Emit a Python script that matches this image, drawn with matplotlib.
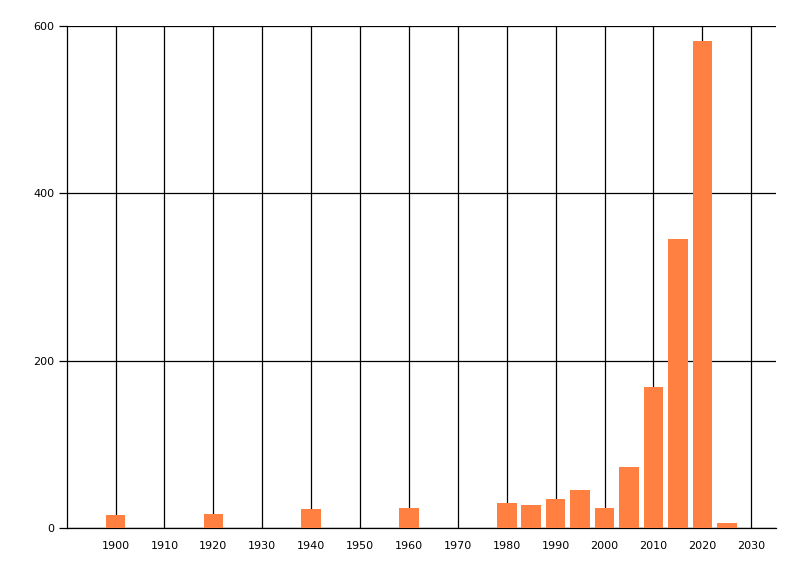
import matplotlib
matplotlib.use("Agg")
import matplotlib.pyplot as plt

years = [1900, 1920, 1940, 1960, 1980, 1985, 1990, 1995, 2000, 2005, 2010, 2015, 2020, 2025]
counts = [16, 17, 23, 24, 30, 28, 35, 46, 24, 73, 169, 345, 582, 6]
xticks = list(range(1900, 2031, 10))
yticks = [0, 200, 400, 600]

fig = plt.figure(figsize=(8, 5.76), dpi=100)
ax = fig.add_axes([66.7/800, 1 - 528.3/576, (775.7-66.7)/800, (528.3-26)/576])
ax.set_axisbelow(True)
ax.bar(years, counts, width=4, color="#FF8040", zorder=3)
ax.set_xlim(1890, 2035)
ax.set_ylim(0, 600)
ax.set_xticks(xticks)
ax.set_xticklabels([str(t) for t in xticks])
ax.set_yticks(yticks)
ax.set_yticklabels([str(t) for t in yticks])
ax.grid(True, color="black", linewidth=0.9)
for s in ["top", "right"]:
    ax.spines[s].set_visible(False)
for s in ["left", "bottom"]:
    ax.spines[s].set_linewidth(0.9)
ax.tick_params(axis="x", length=0, pad=9, labelsize=8)
ax.tick_params(axis="y", length=6, width=0.9, pad=3, labelsize=8)
fig.savefig("out.png", dpi=100, facecolor="white")
